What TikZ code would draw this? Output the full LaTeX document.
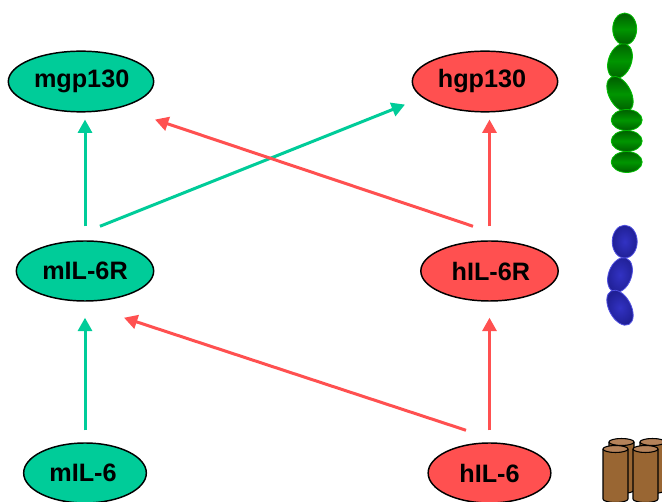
\documentclass[tikz,border=0pt]{standalone}
\usepackage{fontspec}
\setmainfont{Liberation Sans}
\usetikzlibrary{arrows.meta,shapes}
\definecolor{mgreen}{RGB}{0,204,153}
\definecolor{hred}{RGB}{255,80,80}
\definecolor{barrel}{RGB}{153,102,51}
\definecolor{barreltop}{RGB}{180,130,90}

\begin{document}
\begin{tikzpicture}[x=0.75pt,y=-0.75pt]
\tikzset{
	receptor/.style={draw=black, line width=1.1pt, shape=ellipse, inner sep=0pt,
		font=\fontsize{18.9}{23}\selectfont\bfseries},
	mouse/.style={receptor, fill=mgreen},
	human/.style={receptor, fill=hred},
	marrow/.style={-{Triangle[length=10pt,width=10.5pt]}, line width=2.25pt, color=mgreen},
	harrow/.style={-{Triangle[length=10pt,width=10.5pt]}, line width=2.25pt, color=hred},
	gbead/.style={draw={rgb,255:red,0;green,190;blue,0}, line width=0.6pt,
		top color={rgb,255:red,0;green,95;blue,0}, bottom color={rgb,255:red,0;green,95;blue,0},
		middle color={rgb,255:red,0;green,150;blue,0}},
	bbead/.style={draw={rgb,255:red,80;green,80;blue,225}, line width=0.6pt,
		inner color={rgb,255:red,50;green,50;blue,195}, outer color={rgb,255:red,32;green,32;blue,150}},
	barrelside/.style={draw=black, line width=0.8pt, fill=barrel},
	barrellid/.style={draw=black, line width=0.8pt, fill=barreltop}
}
\useasboundingbox (0,0) rectangle (662,502);

\node[mouse, minimum width=109pt, minimum height=45.5pt] (mgp130) at (81,81.5) {\kern1pt mgp130};
\node[human, minimum width=109pt, minimum height=45.5pt] (hgp130) at (485,81.5) {hgp130\kern4.5pt};
\node[mouse, minimum width=103pt, minimum height=45pt] (mIL6R) at (85,271) {mIL-6R};
\node[human, minimum width=103pt, minimum height=45pt] (hIL6R) at (489.5,271) {\kern2pt hIL-6R};
\node[mouse, minimum width=92pt, minimum height=45pt] (mIL6) at (85,473) {mIL-6\kern3pt};
\node[human, minimum width=92pt, minimum height=45pt] (hIL6) at (489.5,473) {hIL-6};

\draw[marrow] ([shift={(0,-14)}]mIL6R.north) -- ([shift={(4,7)}]mgp130.south);
\draw[marrow] ([shift={(15,-14)}]mIL6R.north) -- ([shift={(-80,-8)}]hgp130.south);
\draw[harrow] ([shift={(0,-14)}]hIL6R.north) -- ([shift={(4.5,7)}]hgp130.south);
\draw[harrow] ([shift={(-16.5,-14)}]hIL6R.north) -- ([shift={(74,7)}]mgp130.south);
\draw[marrow] ([shift={(0,-12)}]mIL6.north) -- ([shift={(0,16)}]mIL6R.south);
\draw[harrow] ([shift={(0,-12)}]hIL6.north) -- ([shift={(0,16)}]hIL6R.south);
\draw[harrow] ([shift={(-23.5,-12)}]hIL6.north) -- ([shift={(39,16)}]mIL6R.south);

% gp130 chain
\foreach \x/\y/\rx/\ry/\tilt in {624.7/29/12/16/0, 620/61/11.5/18/-20, 620/94/11/19/28,
	626.7/120/15.5/10.5/0, 626.7/141/15.5/10.5/0, 626.7/162/15.5/10.5/0}
	\shadedraw[gbead, rotate around={\tilt:(\x,\y)}] (\x,\y) ellipse ({\rx} and {\ry});

% IL-6R chain
\foreach \x/\y/\rx/\ry/\tilt in {624.7/241.7/12.5/16.5/0, 620/275/11.5/18/-20, 620/307.7/11/19/28}
	\shadedraw[bbead, rotate around={\tilt:(\x,\y)}] (\x,\y) ellipse ({\rx} and {\ry});

% IL-6 barrels, back row first
\foreach \x/\ytop/\ybot in {621.5/442/490, 652.5/442/490, 615.5/449/499, 645.5/449/499} {
	\draw[barrelside] (\x-12.5,\ytop) -- (\x-12.5,\ybot) arc (180:0:12.5 and 3.5) -- (\x+12.5,\ytop);
	\draw[barrellid] (\x,\ytop) ellipse (12.5 and 3.5);
}
\end{tikzpicture}
\end{document}
